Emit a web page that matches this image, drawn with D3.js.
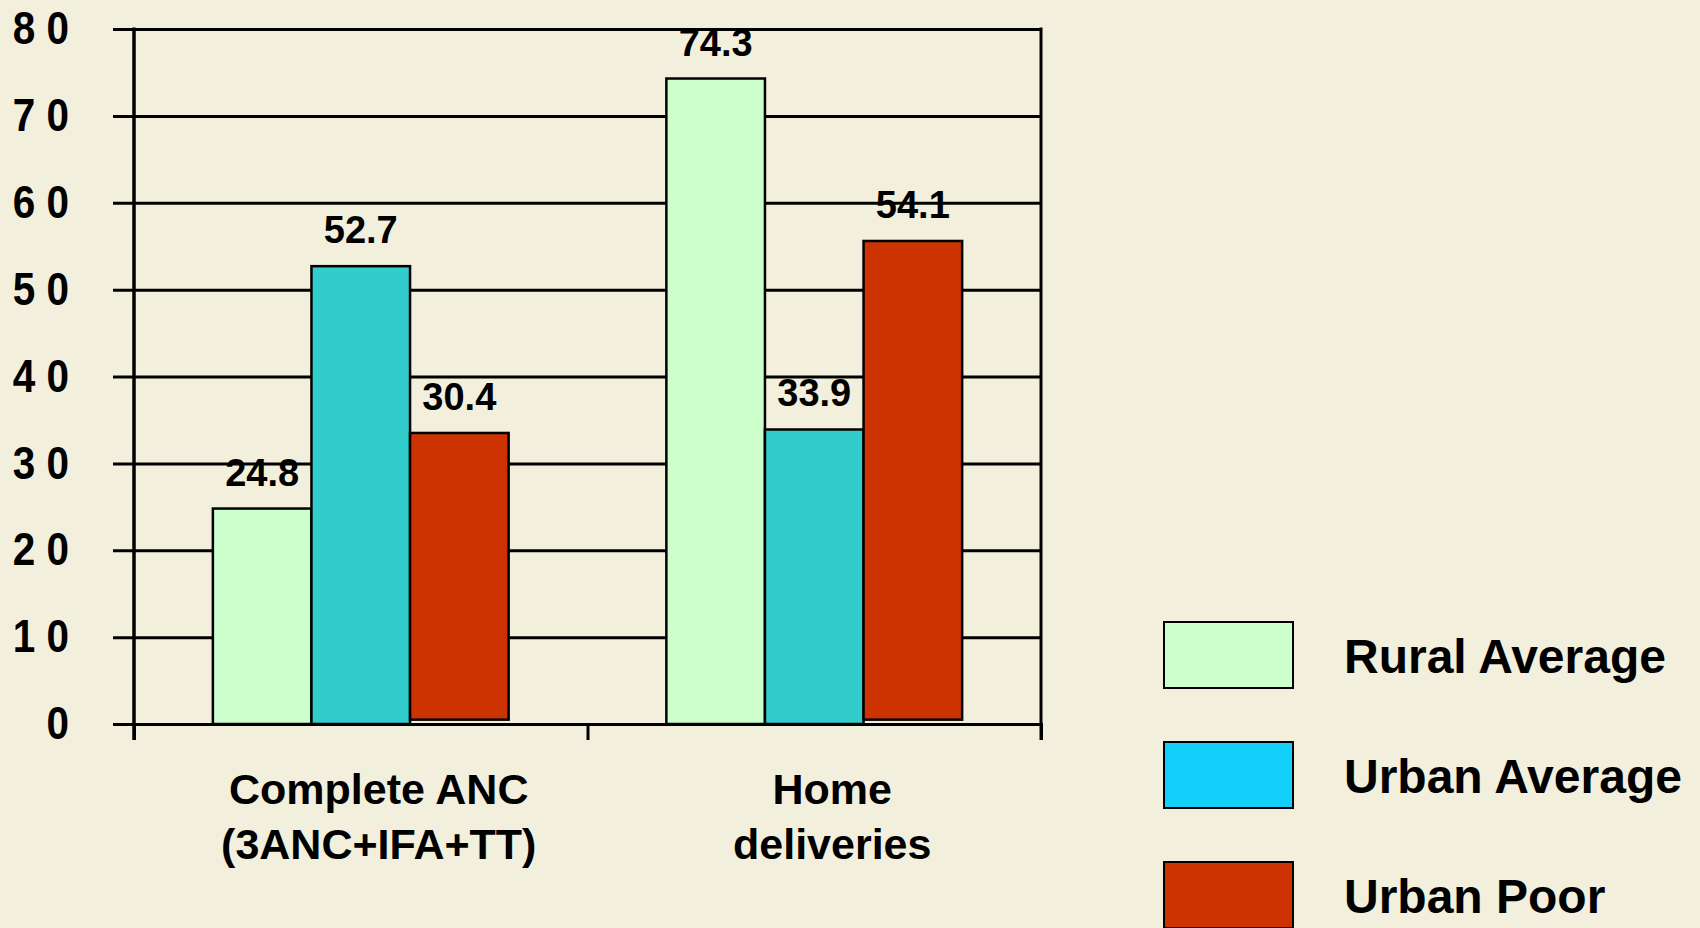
<!DOCTYPE html>
<html>
<head>
<meta charset="utf-8">
<script src="https://cdn.jsdelivr.net/npm/d3@7"></script>
<style>
  html, body { margin: 0; padding: 0; background: #F2EFDC; }
  svg { display: block; }
  text { font-family: "Liberation Sans", Arial, Helvetica, sans-serif; font-weight: bold; fill: #000; }
</style>
</head>
<body>
<svg id="chart" width="1700" height="928"></svg>
<script>
// ---- data ----
const categories = ["Complete ANC\n(3ANC+IFA+TT)", "Home\ndeliveries"];
const series = ["Rural Average", "Urban Average", "Urban Poor"];
const ruralAverage = [24.8, 74.3];
const urbanAverage = [52.7, 33.9];
const urbanPoor = [33.5, 55.6];          // bar heights as drawn in the picture
const seriesBase = [0, 0, 0.5];          // red bars sit slightly above zero in the picture
const ruralLabels = ["24.8", "74.3"];
const urbanAverageLabels = ["52.7", "33.9"];
const urbanPoorLabels = ["30.4", "54.1"];
const yTicks = [0, 10, 20, 30, 40, 50, 60, 70, 80];
const yTickLabels = ["0", "1 0", "2 0", "3 0", "4 0", "5 0", "6 0", "7 0", "8 0"];

// ---- styles ----
const barColors = ["#CCFFCC", "#33CCCC", "#CC3300"];
const legendColors = ["#CCFFCC", "#13CFFC", "#CC3300"];

const seriesValues = [ruralAverage, urbanAverage, urbanPoor];
const seriesLabels = [ruralLabels, urbanAverageLabels, urbanPoorLabels];

const svg = d3.select("#chart");
svg.append("rect").attr("width", 1700).attr("height", 928).attr("fill", "#F2EFDC");

const plot = { left: 134, right: 1041, top: 29, bottom: 724 };
const plotW = plot.right - plot.left;

const y = d3.scaleLinear().domain([0, 80]).range([plot.bottom, plot.top]);
const x0 = d3.scaleBand().domain(categories).range([plot.left, plot.right]).padding(0);
const x1 = d3.scaleBand().domain(series).range([0, x0.bandwidth()]).paddingInner(0).paddingOuter(0.8);

// gridlines + y labels
const gy = svg.append("g")
  .attr("transform", `translate(${plot.left},0)`)
  .call(d3.axisLeft(y).tickValues(yTicks).tickFormat((d, i) => yTickLabels[i])
    .tickSizeInner(-plotW).tickSizeOuter(0).tickPadding(0));
gy.select(".domain").remove();
gy.selectAll(".tick line")
  .attr("x1", -21).attr("x2", plotW)
  .attr("stroke", "#000").attr("stroke-width", 3);
gy.selectAll(".tick text")
  .attr("x", null)
  .attr("dy", "0.32em")
  .attr("text-anchor", "end")
  .attr("transform", "translate(-65,0) scale(0.88,1)")
  .style("font-size", "46px")
  .style("font-family", "'Liberation Sans', Arial, sans-serif")
  .style("font-weight", "bold");

// bars
const groups = svg.append("g").selectAll("g")
  .data(categories)
  .join("g")
  .attr("transform", c => `translate(${x0(c)},0)`);

groups.selectAll("rect")
  .data((c, ci) => series.map((s, si) => ({ s, si, v: seriesValues[si][ci], base: seriesBase[si] })))
  .join("rect")
  .attr("x", d => x1(d.s))
  .attr("width", x1.bandwidth())
  .attr("y", d => y(d.v))
  .attr("height", d => y(d.base) - y(d.v))
  .attr("fill", d => barColors[d.si])
  .attr("stroke", "#000")
  .attr("stroke-width", 2.5);

groups.selectAll("text.val")
  .data((c, ci) => series.map((s, si) => ({ s, si, v: seriesValues[si][ci], label: seriesLabels[si][ci] })))
  .join("text")
  .attr("class", "val")
  .attr("x", d => x1(d.s) + x1.bandwidth() / 2)
  .attr("y", d => y(d.v) - 23)
  .attr("text-anchor", "middle")
  .style("font-size", "38px")
  .text(d => d.label);

// frame: y-axis line, right border, x-axis with boundary ticks
const xEdge = d3.scaleLinear().domain([0, categories.length]).range([plot.left, plot.right]);
const gx = svg.append("g")
  .attr("transform", `translate(0,${plot.bottom})`)
  .call(d3.axisBottom(xEdge).ticks(categories.length).tickSize(16).tickFormat(""));
gx.select(".domain").attr("stroke", "#000").attr("stroke-width", 3);
gx.selectAll(".tick line").attr("stroke", "#000").attr("stroke-width", 3);

svg.append("line")
  .attr("x1", plot.left).attr("x2", plot.left)
  .attr("y1", plot.top - 1.5).attr("y2", plot.bottom + 16)
  .attr("stroke", "#000").attr("stroke-width", 3.5);
svg.append("line")
  .attr("x1", plot.right).attr("x2", plot.right)
  .attr("y1", plot.top - 1.5).attr("y2", plot.bottom + 16)
  .attr("stroke", "#000").attr("stroke-width", 3);

// category labels
const catText = svg.append("g").selectAll("text")
  .data(categories)
  .join("text")
  .attr("text-anchor", "middle")
  .style("font-size", "43px");
catText.each(function (c) {
  const cx = x0(c) + x0.bandwidth() / 2 + 18;
  d3.select(this).selectAll("tspan")
    .data(c.split("\n"))
    .join("tspan")
    .attr("x", cx)
    .attr("y", (d, i) => plot.bottom + 80 + i * 55)
    .text(d => d);
});

// legend
const legend = svg.append("g").attr("transform", "translate(1164,622)");
const li = legend.selectAll("g")
  .data(series)
  .join("g")
  .attr("transform", (d, i) => `translate(0,${i * 120})`);
li.append("rect")
  .attr("width", 129).attr("height", 66)
  .attr("fill", (d, i) => legendColors[i])
  .attr("stroke", "#000").attr("stroke-width", 2);
li.append("text")
  .attr("x", 180).attr("y", 51)
  .style("font-size", "48px")
  .text(d => d);
</script>
</body>
</html>
